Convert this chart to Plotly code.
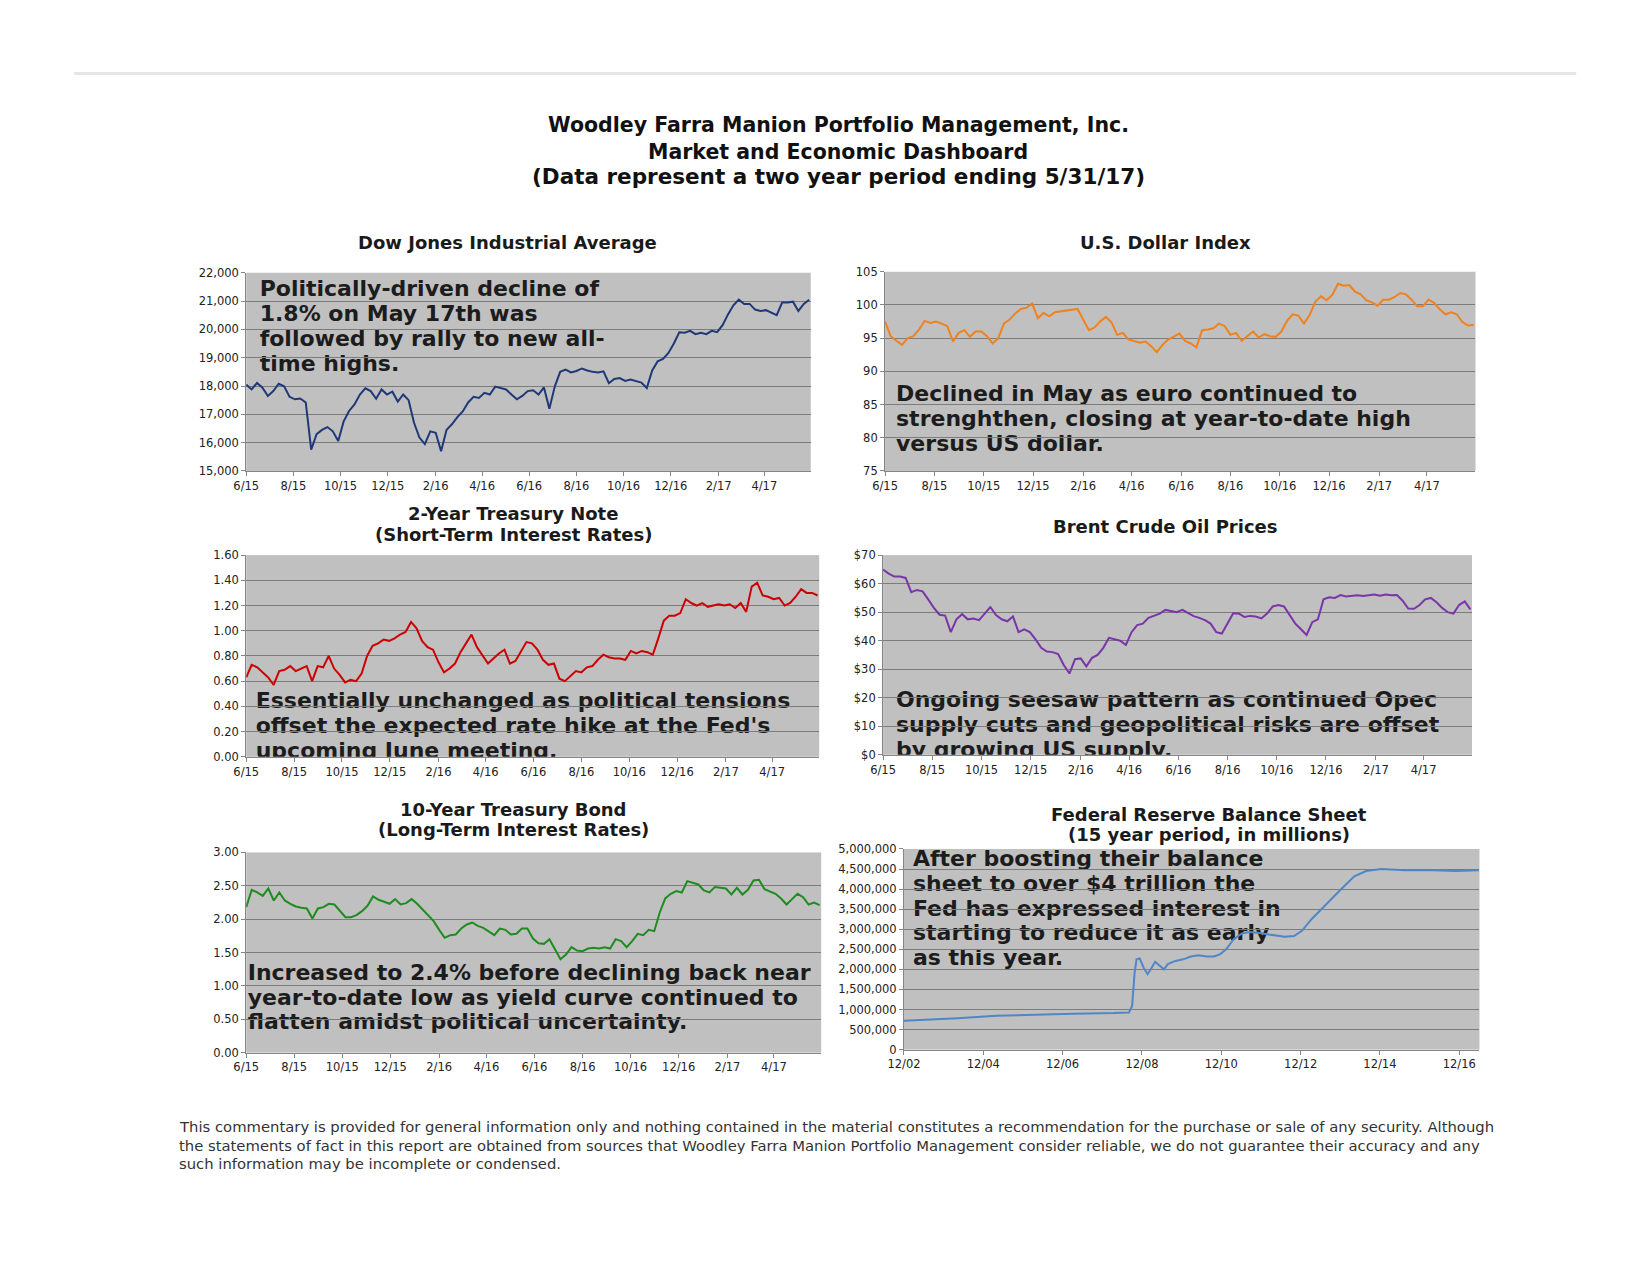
import pandas as pd
import plotly.graph_objects as go

W, H = 1650, 1275

# ---------------- data ----------------
week_dates = pd.date_range("2015-06-01", periods=105, freq="7D")

dow = [18050, 17880, 18110, 17940, 17650, 17820, 18080, 17990, 17620, 17530,
       17560, 17420, 15750, 16300, 16450, 16550, 16400, 16060, 16750, 17120,
       17350, 17700, 17920, 17820, 17550, 17880, 17700, 17800, 17450, 17700,
       17500, 16700, 16180, 15950, 16400, 16350, 15700, 16450, 16650, 16900,
       17100, 17420, 17620, 17580, 17760, 17700, 17980, 17940, 17880, 17700,
       17530, 17650, 17820, 17850, 17700, 17950, 17200, 17980, 18500, 18580,
       18480, 18530, 18620, 18550, 18500, 18480, 18520, 18100, 18250, 18280,
       18180, 18230, 18170, 18120, 17930, 18550, 18870, 18960, 19170, 19500,
       19900, 19880, 19950, 19830, 19880, 19830, 19950, 19900, 20150, 20530,
       20850, 21050, 20900, 20900, 20700, 20650, 20680, 20600, 20500, 20950,
       20950, 20980, 20650, 20900, 21050]

usd = [97.5, 95.3, 94.6, 94.0, 95.0, 95.3, 96.3, 97.6, 97.3, 97.5,
       97.2, 96.8, 94.5, 95.8, 96.2, 95.2, 96.0, 96.0, 95.3, 94.2,
       95.0, 97.2, 97.8, 98.7, 99.4, 99.6, 100.2, 98.0, 98.8, 98.3,
       98.9, 99.0, 99.2, 99.2, 99.4, 97.8, 96.2, 96.6, 97.5, 98.2,
       97.4, 95.5, 95.8, 94.8, 94.5, 94.3, 94.5, 93.8, 92.9, 94.0,
       94.8, 95.3, 95.7, 94.6, 94.2, 93.6, 96.2, 96.3, 96.5, 97.2,
       96.8, 95.5, 95.8, 94.6, 95.3, 96.0, 95.1, 95.6, 95.3, 95.2,
       96.0, 97.6, 98.6, 98.4, 97.2, 98.5, 100.5, 101.3, 100.7, 101.5,
       103.2, 102.9, 103.0, 102.0, 101.6, 100.7, 100.4, 99.9, 100.8, 100.8,
       101.2, 101.8, 101.6, 100.8, 99.8, 99.8, 100.8, 100.3, 99.3, 98.6,
       98.9, 98.6, 97.4, 96.9, 97.0]

t2 = [0.63, 0.73, 0.71, 0.67, 0.63, 0.57, 0.68, 0.69, 0.72, 0.68,
      0.70, 0.72, 0.60, 0.72, 0.71, 0.80, 0.70, 0.65, 0.59, 0.61,
      0.60, 0.66, 0.80, 0.88, 0.90, 0.93, 0.92, 0.94, 0.97, 0.99,
      1.07, 1.02, 0.92, 0.87, 0.85, 0.75, 0.67, 0.70, 0.74, 0.83,
      0.90, 0.97, 0.87, 0.80, 0.74, 0.78, 0.82, 0.85, 0.74, 0.76,
      0.83, 0.91, 0.90, 0.85, 0.77, 0.73, 0.74, 0.62, 0.60, 0.64,
      0.68, 0.67, 0.71, 0.72, 0.77, 0.81, 0.79, 0.78, 0.78, 0.77,
      0.84, 0.82, 0.84, 0.83, 0.81, 0.94, 1.08, 1.12, 1.12, 1.14,
      1.25, 1.22, 1.20, 1.22, 1.19, 1.20, 1.21, 1.20, 1.21, 1.18,
      1.22, 1.15, 1.35, 1.38, 1.28, 1.27, 1.25, 1.26, 1.20, 1.22,
      1.27, 1.33, 1.30, 1.30, 1.28]

brent = [64.9, 63.5, 62.5, 62.5, 62.0, 57.0, 57.8, 57.3, 54.5, 51.5,
         49.1, 48.8, 43.0, 47.5, 49.3, 47.5, 47.8, 47.2, 49.5, 51.8,
         49.0, 47.5, 46.8, 48.5, 43.0, 44.0, 43.0, 40.5, 37.5, 36.2,
         36.0, 35.3, 31.5, 28.5, 33.5, 33.8, 31.0, 34.0, 35.0, 37.5,
         41.0, 40.5, 40.0, 38.5, 43.0, 45.5, 46.0, 48.0, 48.7, 49.5,
         50.8, 50.5, 50.0, 50.8, 49.8, 48.6, 48.0, 47.2, 46.0, 43.0,
         42.5, 46.0, 49.6, 49.5, 48.3, 48.7, 48.5, 47.8, 49.5, 52.0,
         52.5, 52.0, 48.8, 46.0, 44.0, 42.0, 46.5, 47.5, 54.5, 55.2,
         55.0, 56.0, 55.5, 55.8, 55.9, 55.7, 56.0, 56.2, 55.8, 56.2,
         55.9, 56.0, 54.0, 51.3, 51.2, 52.5, 54.5, 55.0, 53.5, 51.5,
         50.0, 49.5, 52.5, 53.8, 51.0]

t10 = [2.18, 2.44, 2.40, 2.35, 2.46, 2.28, 2.40, 2.28, 2.23, 2.19,
       2.17, 2.16, 2.01, 2.16, 2.18, 2.23, 2.22, 2.12, 2.03, 2.03,
       2.06, 2.12, 2.20, 2.34, 2.29, 2.26, 2.23, 2.30, 2.22, 2.24,
       2.30, 2.23, 2.14, 2.05, 1.97, 1.84, 1.72, 1.76, 1.77, 1.86,
       1.92, 1.95, 1.90, 1.87, 1.82, 1.76, 1.86, 1.84, 1.77, 1.78,
       1.86, 1.86, 1.71, 1.64, 1.63, 1.70, 1.55, 1.40, 1.47, 1.58,
       1.53, 1.52, 1.56, 1.57, 1.56, 1.58, 1.56, 1.70, 1.67, 1.58,
       1.67, 1.78, 1.76, 1.84, 1.82, 2.10, 2.31, 2.38, 2.42, 2.40,
       2.57, 2.55, 2.52, 2.43, 2.40, 2.48, 2.47, 2.46, 2.37, 2.47,
       2.37, 2.44, 2.58, 2.59, 2.45, 2.42, 2.38, 2.31, 2.22, 2.30,
       2.38, 2.33, 2.22, 2.25, 2.21]

fed_dates = ["2002-12-01", "2004-04-07", "2005-04-01", "2006-03-25", "2007-03-18",
             "2008-03-13", "2008-08-03", "2008-09-01", "2008-09-24", "2008-10-12",
             "2008-11-10", "2008-12-16", "2009-01-22", "2009-02-28", "2009-04-01",
             "2009-05-08", "2009-06-21", "2009-07-27", "2009-10-04", "2009-12-16",
             "2010-02-24", "2010-05-08", "2010-07-20", "2010-09-27", "2010-11-22",
             "2011-01-15", "2011-03-25", "2011-06-06", "2011-08-18", "2011-12-02",
             "2012-03-17", "2012-07-05", "2012-10-01", "2012-12-13", "2013-03-11",
             "2013-08-04", "2013-12-06", "2014-04-09", "2014-07-27", "2014-12-16",
             "2015-07-19", "2016-03-28", "2016-10-27", "2017-05-31"]
fed_vals = [720000, 780000, 845000, 877000, 894000, 910000, 927000, 1090000, 1920000, 2250000,
            2270000, 2040000, 1880000, 2040000, 2190000, 2100000, 2000000, 2130000, 2210000, 2250000,
            2320000, 2350000, 2320000, 2320000, 2380000, 2500000, 2750000, 2890000, 2930000, 2900000,
            2850000, 2810000, 2830000, 2960000, 3250000, 3660000, 3990000, 4320000, 4450000, 4500000,
            4470000, 4470000, 4450000, 4470000]

two_year_tickvals = ["2015-06-01", "2015-08-01", "2015-10-01", "2015-12-01", "2016-02-01", "2016-04-01",
                     "2016-06-01", "2016-08-01", "2016-10-01", "2016-12-01", "2017-02-01", "2017-04-01"]
two_year_ticktext = ["6/15", "8/15", "10/15", "12/15", "2/16", "4/16",
                     "6/16", "8/16", "10/16", "12/16", "2/17", "4/17"]
fed_tickvals = ["2002-12-01", "2004-12-01", "2006-12-01", "2008-12-01",
                "2010-12-01", "2012-12-01", "2014-12-01", "2016-12-01"]
fed_ticktext = ["12/02", "12/04", "12/06", "12/08", "12/10", "12/12", "12/14", "12/16"]

main_title = ["Woodley Farra Manion Portfolio Management, Inc.",
              "Market and Economic Dashboard",
              "(Data represent a two year period ending 5/31/17)"]

footer = ["This commentary is provided for general information only and nothing contained in the material constitutes a recommendation for the purchase or sale of any security. Although",
          "the statements of fact in this report are obtained from sources that Woodley Farra Manion Portfolio Management consider reliable, we do not guarantee their accuracy and any",
          "such information may be incomplete or condensed."]


# ---------------- layout calibration (pixel positions) ----------------
def fx(v):
    return (v - 22.7) / 0.9923


def fy(v):
    return (v - 13.2) / 0.993


TWO_YR = ("2015-06-01", "2017-05-31")
panels = [
    dict(x=week_dates, y=dow, color="#1F3877", px=(244.5, 810.5), py=(272, 471),
         yr=(15000, 22000), dt=1000, fmt=",d", pre="", xr=TWO_YR, tv=two_year_tickvals, tt=two_year_ticktext,
         title=["Dow Jones Industrial Average"], ty=[242], tx=506,
         note=["Politically-driven decline of", "1.8% on May 17th was",
               "followed by rally to new all-", "time highs."], nx=255, ny=[285.5, 311, 336, 361]),
    dict(x=week_dates, y=usd, color="#F0821E", px=(885, 1477), py=(271, 471),
         yr=(75, 105), dt=5, fmt="d", pre="", xr=TWO_YR, tv=two_year_tickvals, tt=two_year_ticktext,
         title=["U.S. Dollar Index"], ty=[242], tx=1166,
         note=["Declined in May as euro continued to", "strenghthen, closing at year-to-date high",
               "versus US dollar."], nx=893, ny=[391.5, 416.5, 441]),
    dict(x=week_dates, y=t2, color="#CC0000", px=(244.5, 819), py=(555.5, 758),
         yr=(0, 1.6), dt=0.2, fmt=".2f", pre="", xr=TWO_YR, tv=two_year_tickvals, tt=two_year_ticktext,
         title=["2-Year Treasury Note", "(Short-Term Interest Rates)"], ty=[514, 535], tx=512,
         note=["Essentially unchanged as political tensions", "offset the expected rate hike at the Fed's",
               "upcoming June meeting."], nx=251, ny=[699.5, 725, 750]),
    dict(x=week_dates, y=brent, color="#7A35A8", px=(883, 1473.5), py=(555.5, 756),
         yr=(0, 70), dt=10, fmt="d", pre="$", xr=TWO_YR, tv=two_year_tickvals, tt=two_year_ticktext,
         title=["Brent Crude Oil Prices"], ty=[527], tx=1166,
         note=["Ongoing seesaw pattern as continued Opec", "supply cuts and geopolitical risks are offset",
               "by growing US supply."], nx=893, ny=[698.5, 724, 749]),
    dict(x=week_dates, y=t10, color="#1E8C1E", px=(244.5, 821), py=(854, 1055),
         yr=(0, 3.0), dt=0.5, fmt=".2f", pre="", xr=TWO_YR, tv=two_year_tickvals, tt=two_year_ticktext,
         title=["10-Year Treasury Bond", "(Long-Term Interest Rates)"], ty=[810.5, 830.5], tx=512,
         note=["Increased to 2.4% before declining back near", "year-to-date low as yield curve continued to",
               "flatten amidst political uncertainty."], nx=243, ny=[973, 998, 1022]),
    dict(x=fed_dates, y=fed_vals, color="#4F86C6", px=(904, 1481), py=(850.5, 1052),
         yr=(0, 5000000), dt=500000, fmt=",d", pre="", xr=("2002-12-01", "2017-06-05"), tv=fed_tickvals, tt=fed_ticktext,
         title=["Federal Reserve Balance Sheet", "(15 year period, in millions)"], ty=[816, 836], tx=1210,
         note=["After boosting their balance", "sheet to over $4 trillion the", "Fed has expressed interest in",
               "starting to reduce it as early", "as this year."], nx=910, ny=[858.5, 883.5, 908.5, 932.5, 957]),
]

TICK_FONT = dict(family="DejaVu Sans", size=11.5, color="#222222")
AXIS_GRAY = "#868686"
NOTE_SIZE = 22
SUB_SIZE = 18

fig = go.Figure()
layout = dict(width=W, height=H, margin=dict(l=0, r=0, t=0, b=0),
              paper_bgcolor="white", plot_bgcolor="#C0C0C0", showlegend=False)
shapes = []
annotations = []

for p in panels:
    p["fpx"] = (fx(p["px"][0]), fx(p["px"][1]))
    p["fpy"] = (fy(p["py"][0]), fy(p["py"][1]))


def px_to_date(p, px):
    frac = (fx(px) - p["fpx"][0]) / (p["fpx"][1] - p["fpx"][0])
    t0, t1 = pd.Timestamp(p["xr"][0]), pd.Timestamp(p["xr"][1])
    return (t0 + (t1 - t0) * frac).strftime("%Y-%m-%d %H:%M:%S")


def py_to_val(p, py):
    frac = (p["fpy"][1] - fy(py)) / (p["fpy"][1] - p["fpy"][0])
    return p["yr"][0] + frac * (p["yr"][1] - p["yr"][0])


for i, p in enumerate(panels, start=1):
    sx = "" if i == 1 else str(i)
    xname, yname = "x" + sx, "y" + sx
    fig.add_trace(go.Scatter(x=p["x"], y=p["y"], mode="lines", xaxis=xname, yaxis=yname,
                             line=dict(color=p["color"], width=2), hoverinfo="skip"))
    layout["xaxis" + sx] = dict(
        domain=[p["fpx"][0] / W, p["fpx"][1] / W], anchor=yname, type="date", range=list(p["xr"]),
        tickmode="array", tickvals=p["tv"], ticktext=p["tt"], showgrid=False, zeroline=False,
        showline=True, linecolor=AXIS_GRAY, linewidth=1, ticks="outside", ticklen=4,
        tickcolor=AXIS_GRAY, tickfont=TICK_FONT)
    layout["yaxis" + sx] = dict(
        domain=[1 - p["fpy"][1] / H, 1 - p["fpy"][0] / H], anchor=xname, range=list(p["yr"]),
        tick0=0, dtick=p["dt"], tickformat=p["fmt"], tickprefix=p["pre"], showgrid=True,
        gridcolor="#7C7C7C", gridwidth=1, zeroline=False, showline=True, linecolor=AXIS_GRAY,
        linewidth=1, ticks="outside", ticklen=4, tickcolor=AXIS_GRAY, tickfont=TICK_FONT)
    for t, ty in zip(p["title"], p["ty"]):
        annotations.append(dict(text="<b>" + t + "</b>", xref="paper", yref="paper",
                                x=fx(p["tx"]) / W, y=1 - fy(ty) / H, xanchor="center", yanchor="middle",
                                showarrow=False, font=dict(family="DejaVu Sans", size=SUB_SIZE, color="#1a1a1a")))
    # commentary lines sit beneath the gridlines, as in the original
    for t, ny in zip(p["note"], p["ny"]):
        shapes.append(dict(type="rect", xref=xname, yref=yname,
                           x0=px_to_date(p, p["nx"]), x1=px_to_date(p, p["nx"] + 4),
                           y0=py_to_val(p, ny + 1), y1=py_to_val(p, ny - 1),
                           line=dict(width=0), fillcolor="rgba(0,0,0,0)", layer="below",
                           label=dict(text="<b>" + t + "</b>", textposition="middle left",
                                      xanchor="left", yanchor="middle", padding=0,
                                      font=dict(family="DejaVu Sans", size=NOTE_SIZE, color="#1c1c1c"))))

for t, ty, sz in zip(main_title, [124, 151, 175], [20.5, 20.5, 21.5]):
    annotations.append(dict(text="<b>" + t + "</b>", xref="paper", yref="paper", x=fx(838) / W, y=1 - fy(ty) / H,
                            xanchor="center", yanchor="middle", showarrow=False,
                            font=dict(family="DejaVu Sans", size=sz, color="#111111")))
for t, ty in zip(footer, [1129, 1148, 1166]):
    annotations.append(dict(text=t, xref="paper", yref="paper", x=fx(175) / W, y=1 - fy(ty) / H,
                            xanchor="left", yanchor="middle", showarrow=False,
                            font=dict(family="DejaVu Sans", size=14.8, color="#333333")))

shapes.append(dict(type="line", xref="paper", yref="paper", x0=fx(72) / W, x1=fx(1578) / W,
                   y0=1 - fy(72) / H, y1=1 - fy(72) / H, line=dict(color="#E6E6E6", width=3)))

layout["shapes"] = shapes
layout["annotations"] = annotations
fig.update_layout(**layout)
fig.write_html("out.html")
